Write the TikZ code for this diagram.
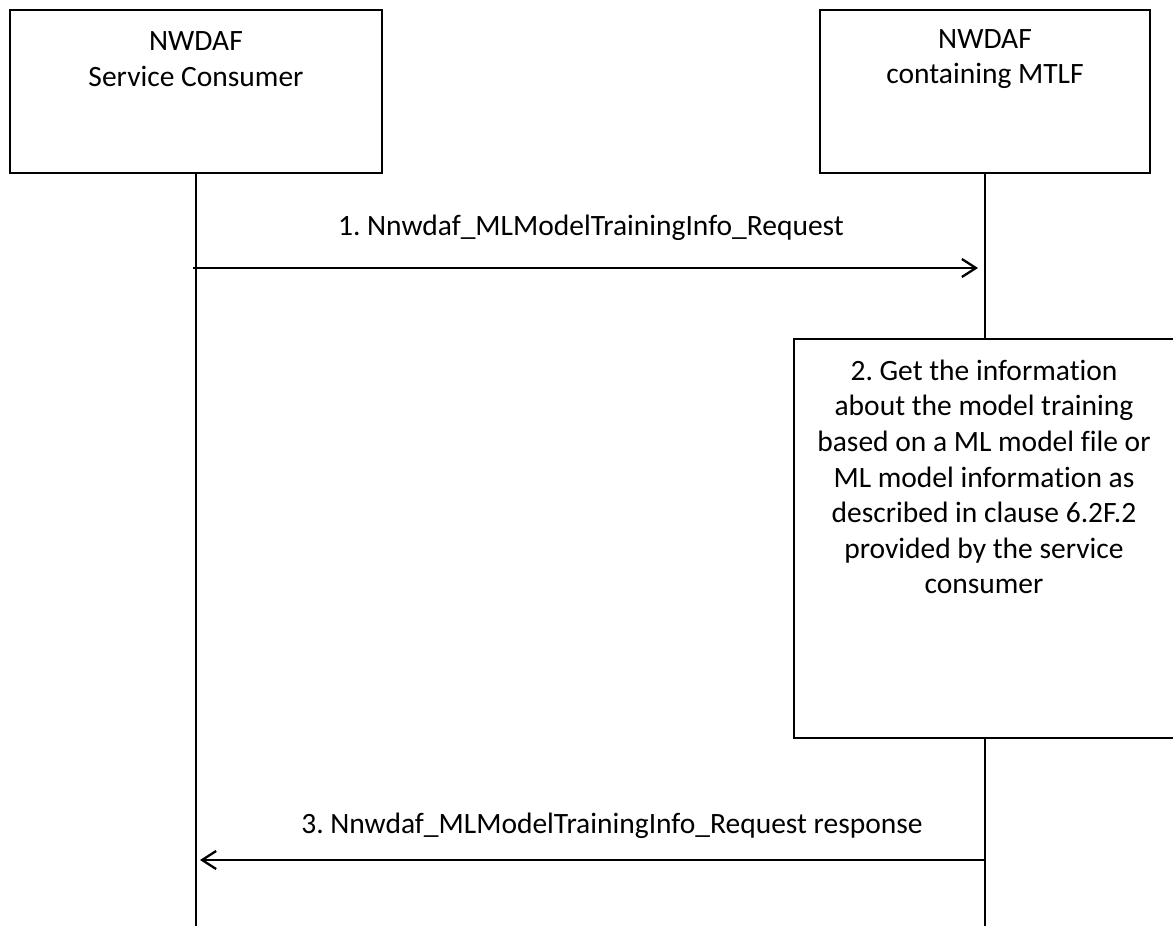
\documentclass[tikz,border=0pt]{standalone}
\usepackage{fontspec}
\setmainfont{Carlito}[Ligatures={NoCommon}]
\usetikzlibrary{arrows.meta}
\frenchspacing
\begin{document}
\begin{tikzpicture}[x=1pt,y=-1pt,
  every node/.style={font=\fontsize{29.5}{35.6}\selectfont, inner sep=0pt},
  ln/.style={line width=2.3pt},
  hdr/.style={draw, line width=2.3pt, fill=white, minimum width=372pt, minimum height=163pt},
  stepbox/.style={draw, line width=2.3pt, fill=white},
  msg/.style={line width=2.3pt, -{Straight Barb[length=14pt,width=18pt,line width=2.3pt]}},
  lbl/.style={align=center}
]
\clip (0,0) rectangle (1173,926);
\fill[white] (0,0) rectangle (1173,926);
% headers
\node[hdr] (cons) at (196,91.5) {};
\node[hdr, minimum width=330pt] (nwdaf) at (985,91.5) {};
\node[lbl] (consT) at (196,59) {NWDAF\\Service Consumer};
\node[lbl] (nwdafT) at (985,59) {NWDAF\\containing MTLF};
% lifelines
\coordinate (consEnd) at (196,926);
\coordinate (nwdafEnd) at (985,926);
\draw[ln] (cons.south) -- (consEnd);
\draw[ln] (nwdaf.south) -- (nwdafEnd);
% message 1
\coordinate (m1s) at (193,268);
\coordinate (m1e) at (978,268);
\draw[msg] (m1s) -- (m1e);
\node[lbl] (m1l) at (591,228) {1. Nnwdaf\_MLModelTrainingInfo\_Request};
% step 2
\draw[stepbox] (794,339) rectangle (1190,738);
\node[lbl] (s2) at (984,477) {2. Get the information\\about the model training\\based on a ML model file or\\ML model information as\\described in clause 6.2F.2\\provided by the service\\consumer};
% message 3
\coordinate (m3s) at (985,860);
\coordinate (m3e) at (200,860);
\draw[msg] (m3s) -- (m3e);
\node[lbl] (m3l) at (612,826) {3. Nnwdaf\_MLModelTrainingInfo\_Request response};
\end{tikzpicture}
\end{document}
